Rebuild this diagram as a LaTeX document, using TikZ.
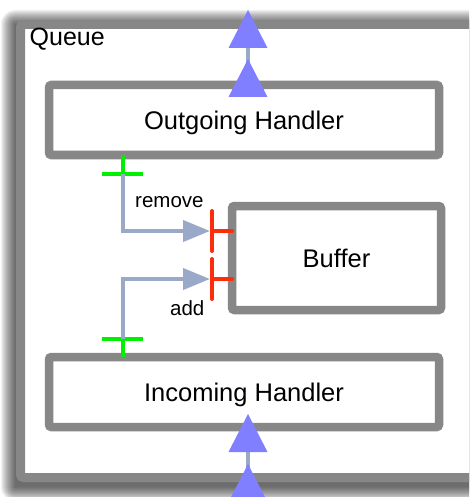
\documentclass[tikz,border=0pt]{standalone}
\usepackage{fontspec}
\setmainfont{Liberation Sans}
\usetikzlibrary{arrows.meta}
\definecolor{frame}{HTML}{878787}
\definecolor{flowc}{HTML}{9AA9C7}
\definecolor{portblue}{HTML}{7F7FFF}
\definecolor{portgreen}{HTML}{00F000}
\definecolor{portred}{HTML}{FF2E0A}
\begin{document}
\begin{tikzpicture}[x=1pt,y=-1pt,
  box/.style={draw=frame, line width=8.5pt, fill=white, rounded corners=2.5pt,
    outer sep=0pt, inner sep=0pt, text depth=0pt,
    font=\fontsize{25.5}{30}\selectfont},
  small/.style={inner sep=0pt, font=\fontsize{20.5}{24}\selectfont},
  flow/.style={draw=flowc, line width=4pt, line cap=butt,
    -{Triangle[length=27pt,width=21pt]}},
  link/.style={draw=flowc, line width=4pt},
  provided/.style={draw=portgreen, line width=4pt},
  required/.style={draw=portred, line width=4pt, line cap=round},
  porttri/.pic={\fill[portblue] (0,0) -- (-19.5,38) -- (19.5,38) -- cycle;}
]
\useasboundingbox (0,0) rectangle (469,497);
\begin{scope}
\clip (0,0) rectangle (469,497);

% soft shadow under the container, built from stacked translucent layers
\foreach \r in {0,1,...,14}
  \fill[black, opacity=0.055, rounded corners=\r pt]
    (15-\r,24-\r) rectangle (530+\r,487+\r);

% outer container
\node[box, line width=9pt, rounded corners=3pt,
      minimum width=500pt, minimum height=453pt]
  (queue) at (270.5,251) {};
\node[anchor=base west, inner sep=0pt, font=\fontsize{25}{30}\selectfont]
  (qlabel) at (29.5,46) {Queue};

% handlers and buffer
\node[box, minimum width=390pt, minimum height=70pt] (out) at (244,120) {Outgoing Handler};
\node[box, minimum width=390pt, minimum height=70pt] (in)  at (244,392) {Incoming Handler};
\node[box, minimum width=209pt, minimum height=104pt] (buf) at (336.5,258) {Buffer};

% ports of the buffer
\coordinate (rmPort)  at (212,231);
\coordinate (addPort) at (212,279);
\draw[required] (rmPort) -- (rmPort -| buf.west);
\draw[required] (addPort) -- (addPort -| buf.west);
\draw[required] ([yshift=-20pt]rmPort) -- ([yshift=20pt]rmPort);
\draw[required] ([yshift=-20pt]addPort) -- ([yshift=20pt]addPort);

% ports of the handlers
\coordinate (rmSrc)  at (122.5,174);
\coordinate (addSrc) at (122.5,339);
\draw[provided] (rmSrc) -- (rmSrc |- out.south);
\draw[provided] (addSrc) -- (addSrc |- in.north);
\draw[provided] ([xshift=-20.5pt]rmSrc) -- ([xshift=20.5pt]rmSrc);
\draw[provided] ([xshift=-20.5pt]addSrc) -- ([xshift=20.5pt]addSrc);

% buffer access
\draw[flow] (rmSrc) |- ([xshift=-2pt]rmPort);
\draw[flow] (addSrc) |- ([xshift=-2pt]addPort);
\node[small, anchor=base west] (lremove) at (135,207) {remove};
\node[small, anchor=base west] (ladd) at (170,315) {add};

% external flow through the queue
\coordinate (qtop) at (248,24.5);
\coordinate (qbot) at (248,477.5);
\draw[link] (248,85) -- (qtop);
\draw[link] (248,427) -- (248,500);
\pic at (248,59) {porttri};
\pic at (248,10) {porttri};
\pic at (248,414) {porttri};
\pic at (248,464) {porttri};
\end{scope}
\end{tikzpicture}
\end{document}
